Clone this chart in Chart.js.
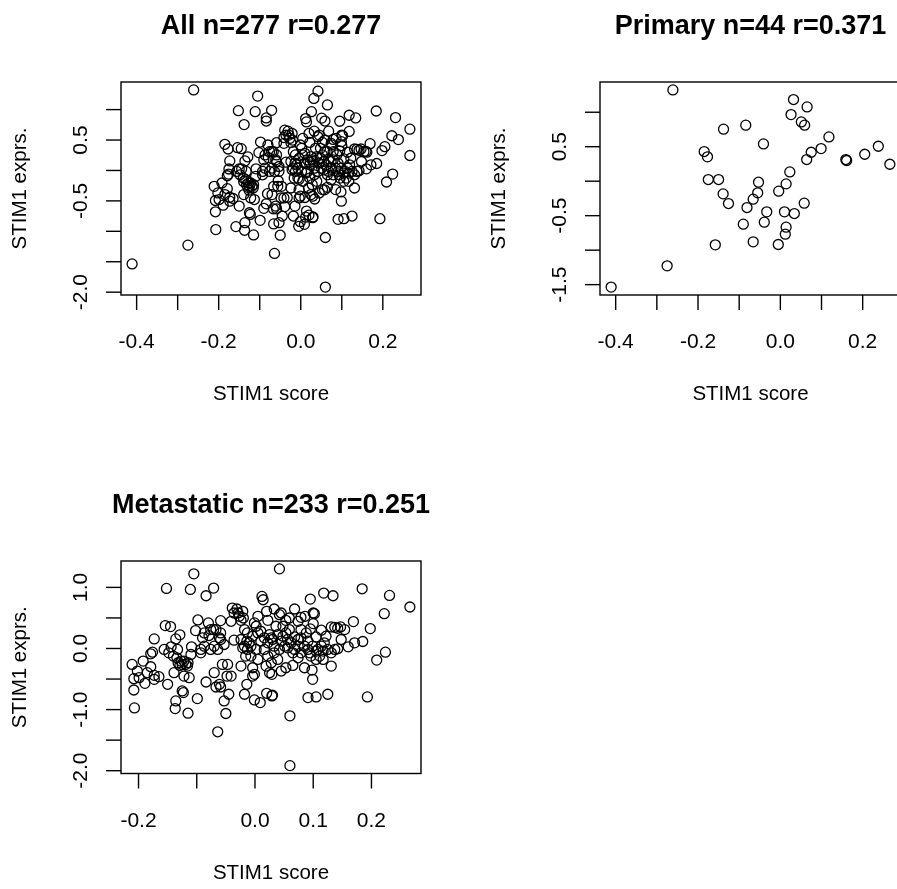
<!DOCTYPE html>
<html>
<head>
<meta charset="utf-8">
<title>STIM1 score vs STIM1 expression</title>
<script src="https://cdn.jsdelivr.net/npm/chart.js@4.4.1/dist/chart.umd.min.js"></script>
<style>
  html, body { margin: 0; padding: 0; background: #fff; overflow: hidden; }
  #page { position: relative; width: 897px; height: 889px; overflow: hidden; background: #fff; }
  canvas { position: absolute; }
</style>
</head>
<body>
<div id="page">
  <canvas id="allChart" width="448" height="444" style="left:0;top:0"></canvas>
  <canvas id="primaryChart" width="460" height="444" style="left:480px;top:0"></canvas>
  <canvas id="metChart" width="448" height="411" style="left:0;top:478px"></canvas>
</div>
<script>
// primary tumours
var primaryX = [-0.411, -0.261, -0.275, 0.032, 0.065, 0.026, 0.051, 0.059, -0.138, -0.084,
  -0.041, 0.118, 0.099, 0.075, 0.064, 0.159, 0.161, 0.205, 0.238, 0.266,
  -0.185, -0.177, -0.175, -0.150, -0.139, -0.126, -0.053, -0.055, -0.066, -0.081,
  -0.033, -0.039, -0.090, -0.158, -0.066, -0.005, 0.012, 0.014, 0.010, 0.034,
  0.058, -0.004, 0.014, 0.023];
var primaryY = [-1.536, 1.324, -1.227, 1.184, 1.077, 0.966, 0.860, 0.812, 0.754, 0.812,
  0.541, 0.642, 0.473, 0.420, 0.314, 0.314, 0.300, 0.391, 0.507, 0.246,
  0.430, 0.353, 0.024, 0.024, -0.184, -0.324, -0.015, -0.169, -0.261, -0.382,
  -0.444, -0.594, -0.623, -0.923, -0.879, -0.918, -0.768, -0.667, -0.444, -0.469,
  -0.319, -0.145, -0.039, 0.135];

// metastatic samples
var metX = [
  -0.211, -0.208, -0.208, -0.207, -0.192, -0.179, -0.176, -0.173, -0.179, -0.202, -0.199, -0.189, -0.173, -0.165, -0.173,
  -0.152, -0.154, -0.145, -0.136, -0.144, -0.129, -0.140, -0.132, -0.125, -0.119, -0.127, -0.139, -0.150, -0.125, -0.123, -0.136, -0.137, -0.133, -0.129,
  -0.105, -0.111, -0.084, -0.098, -0.102, -0.109, -0.110, -0.115, -0.099, -0.113, -0.122, -0.093, -0.087, -0.090, -0.080, -0.093, -0.084, -0.116,
  -0.071, -0.059, -0.071, -0.076, -0.067, -0.059, -0.079, -0.064, -0.070, -0.067, -0.059, -0.064, -0.050, -0.053, -0.045, -0.048, -0.041, -0.056, -0.047, -0.061, -0.041, -0.039, -0.070, -0.059, -0.076,
  -0.031, -0.021, -0.036, -0.027, -0.024, -0.036, -0.024, -0.018, -0.013, -0.016, -0.024, -0.004, -0.001, -0.004, -0.014, -0.018, -0.001, 0.009, 0.002, -0.001, 0.005, -0.004, 0.012, 0.014, 0.010, -0.010, 0.002, -0.007, 0.005,
  0.042, 0.020, 0.029, 0.030, 0.022, 0.020, 0.033, 0.045, 0.053, 0.022, 0.028, 0.033, 0.039, 0.048, 0.053, 0.022, 0.028, 0.019, 0.025, 0.029, 0.045, 0.053, 0.016, 0.033, 0.042, 0.051, 0.010, 0.036, 0.048, 0.039,
  0.059, 0.068, 0.079, 0.086, 0.100, 0.102, 0.100, 0.095, 0.095, 0.056, 0.062, 0.068, 0.074, 0.079, 0.085, 0.091, 0.094, 0.096, 0.065, 0.074, 0.085, 0.098, 0.099, 0.091, 0.060, 0.060, 0.068, 0.079, 0.088, 0.059, 0.079,
  0.118, 0.134, 0.105, 0.114, 0.131, 0.137, 0.147, 0.142, 0.105, 0.108, 0.114, 0.119, 0.125, 0.131, 0.137, 0.142, 0.131, 0.125, 0.105, 0.111, 0.122, 0.117,
  0.184, 0.231, 0.266, 0.222, 0.198, 0.169, 0.160, 0.171, 0.185, 0.209, 0.224, 0.193,
  -0.122, -0.115, -0.134, -0.029, -0.020, -0.021, -0.007, -0.014, -0.013, -0.018, 0.030, 0.045, 0.056, 0.025, 0.016, 0.065,
  0.074, 0.099, 0.105, 0.117, 0.091, 0.148, 0.154, -0.053, -0.061, -0.087, -0.156, -0.148, -0.185, 0.074, 0.042, 0.005];
var metY = [
  -0.261, -0.494, -0.679, -0.972, -0.206, -0.299, -0.060, 0.157, -0.087, -0.369, -0.478, -0.570, -0.505, -0.461, -0.440,
  0.983, 0.375, 0.358, 0.157, 0.027, 0.223, -0.125, -0.233, -0.261, -0.261, -0.206, -0.396, -0.586, -0.695, -0.722, -0.858, -0.983, -0.016, -0.277,
  1.222, 0.966, 0.863, 0.467, 0.293, 0.027, -0.098, -1.059, -0.820, -0.478, -0.451, -0.071, 0.038, 0.174, 0.418, -0.016, -0.548, -0.288,
  0.988, 0.456, 0.309, 0.309, 0.309, 0.255, 0.212, -0.016, -0.396, -0.630, -0.630, -1.363, -1.064, -0.858, -0.749, -0.451, -0.451, -0.261, -0.261, -0.586, 0.445, 0.662, 0.038, 0.147, -0.016,
  0.646, 0.608, 0.581, 0.527, 0.461, 0.136, 0.147, 0.038, -0.016, -0.125, -0.288, -0.315, -0.423, -0.451, -0.586, -0.749, -0.841, -0.885, 0.364, 0.418, 0.255, 0.201, 0.852, 0.798, 0.119, 0.092, -0.016, -0.125, -0.179,
  1.303, -0.733, -0.776, -0.765, 0.461, 0.608, 0.646, 0.581, 0.461, 0.092, 0.174, 0.038, 0.228, 0.201, 0.255, -0.125, -0.233, -0.288, -0.396, -0.423, -0.369, -0.315, -0.016, -0.071, -0.016, 0.038, 0.282, 0.364, 0.364, -0.179,
  0.499, 0.646, 0.510, 0.527, 0.581, 0.570, 0.407, 0.320, 0.809, 0.147, 0.092, 0.190, 0.147, 0.174, 0.038, -0.016, -0.071, -0.125, -0.277, -0.152, -0.315, -0.353, -0.505, -0.803, -1.102, -1.917, -0.016, -0.071, 0.255, 0.309, 0.309,
  0.907, 0.863, 0.190, 0.299, 0.353, 0.347, 0.353, 0.331, -0.179, -0.016, 0.038, 0.092, -0.016, -0.071, -0.016, -0.005, -0.288, -0.749, -0.793, -0.125, 0.201, -0.179,
  0.977, 0.869, 0.679, 0.570, 0.326, 0.440, 0.027, 0.092, 0.114, -0.190, -0.060, -0.793,
  -0.206, -0.233, -0.152, 0.581, 0.499, 0.011, 0.038, 0.119, 0.255, 0.309, 0.147, 0.119, 0.011, 0.228, 0.174, -0.071,
  0.038, 0.038, -0.043, -0.043, 0.119, 0.147, 0.309, 0.065, 0.174, 0.255, -0.016, -0.071, -0.396, 0.445, 0.554, 0.527];

// all samples = primary + metastatic
var allX = primaryX.concat(metX);
var allY = primaryY.concat(metY);

// correlations as printed in the titles
var allR = "0.277", primaryR = "0.371", metR = "0.251";

// tick positions and the labels R kept after overlap removal
var scoreTicks = [-0.4, -0.3, -0.2, -0.1, 0.0, 0.1, 0.2];
var scoreLabels = ["-0.4", "", "-0.2", "", "0.0", "", "0.2"];
var allYTicks = [-2.0, -1.5, -1.0, -0.5, 0.0, 0.5, 1.0];
var allYLabels = ["-2.0", "", "", "-0.5", "", "0.5", ""];
var primaryYTicks = [-1.5, -1.0, -0.5, 0.0, 0.5, 1.0];
var primaryYLabels = ["-1.5", "", "-0.5", "", "0.5", ""];
var metXTicks = [-0.2, -0.1, 0.0, 0.1, 0.2];
var metXLabels = ["-0.2", "", "0.0", "0.1", "0.2"];
var metYTicks = [-2.0, -1.5, -1.0, -0.5, 0.0, 0.5, 1.0];
var metYLabels = ["-2.0", "", "-1.0", "", "0.0", "", "1.0"];

var FONT = '"Liberation Sans", Arial, Helvetica, sans-serif';

// R pads the data range by 4% on each side
function rLimits(vals) {
  var lo = Math.min.apply(null, vals), hi = Math.max.apply(null, vals);
  var pad = (hi - lo) * 0.04;
  return [lo - pad, hi + pad];
}

function pairUp(xs, ys) {
  var pts = [];
  for (var i = 0; i < Math.min(xs.length, ys.length); i++) {
    pts.push({x: xs[i], y: ys[i]});
  }
  return pts;
}

// base-graphics look: box, outward ticks, rotated y labels, titles
var rBase = {
  id: 'rBase',
  afterDraw: function (chart, args, opts) {
    var ctx = chart.ctx, a = chart.chartArea;
    var sx = chart.scales.x, sy = chart.scales.y;
    ctx.save();
    ctx.strokeStyle = '#000';
    ctx.fillStyle = '#000';
    ctx.lineWidth = 1.4;
    ctx.strokeRect(a.left, a.top, a.right - a.left, a.bottom - a.top);

    ctx.font = '21px ' + FONT;
    ctx.textAlign = 'center';
    ctx.textBaseline = 'alphabetic';
    for (var i = 0; i < opts.xTicks.length; i++) {
      var px = sx.getPixelForValue(opts.xTicks[i]);
      ctx.beginPath();
      ctx.moveTo(px, a.bottom);
      ctx.lineTo(px, a.bottom + 15);
      ctx.stroke();
      if (opts.xLabels[i]) ctx.fillText(opts.xLabels[i], px, a.bottom + 53);
    }
    for (var j = 0; j < opts.yTicks.length; j++) {
      var py = sy.getPixelForValue(opts.yTicks[j]);
      ctx.beginPath();
      ctx.moveTo(a.left, py);
      ctx.lineTo(a.left - 15, py);
      ctx.stroke();
      if (opts.yLabels[j]) {
        ctx.save();
        ctx.translate(a.left - 34, py);
        ctx.rotate(-Math.PI / 2);
        ctx.fillText(opts.yLabels[j], 0, 0);
        ctx.restore();
      }
    }

    ctx.font = '20.5px ' + FONT;
    ctx.fillText('STIM1 score', (a.left + a.right) / 2, a.bottom + 105);
    ctx.save();
    ctx.translate(a.left - 95, (a.top + a.bottom) / 2);
    ctx.rotate(-Math.PI / 2);
    ctx.fillText('STIM1 exprs.', 0, 0);
    ctx.restore();

    ctx.font = 'bold 27px ' + FONT;
    ctx.fillText(opts.title, (a.left + a.right) / 2, a.top - 48);
    ctx.restore();
  }
};

function scatterPanel(id, xs, ys, conf) {
  var xl = rLimits(xs), yl = rLimits(ys);
  return new Chart(document.getElementById(id), {
    type: 'scatter',
    data: {
      datasets: [{
        data: pairUp(xs, ys),
        pointStyle: 'circle',
        pointRadius: 5,
        pointHoverRadius: 5,
        borderColor: '#000',
        borderWidth: 1.3,
        backgroundColor: 'rgba(0,0,0,0)'
      }]
    },
    options: {
      responsive: false,
      animation: false,
      events: [],
      layout: {padding: conf.padding},
      scales: {
        x: {type: 'linear', display: false, min: xl[0], max: xl[1]},
        y: {type: 'linear', display: false, min: yl[0], max: yl[1]}
      },
      plugins: {
        legend: {display: false},
        tooltip: {enabled: false},
        rBase: {
          title: conf.title,
          xTicks: conf.xTicks, xLabels: conf.xLabels,
          yTicks: conf.yTicks, yLabels: conf.yLabels
        }
      }
    },
    plugins: [rBase]
  });
}

scatterPanel('allChart', allX, allY, {
  title: 'All n=' + allX.length + ' r=' + allR,
  padding: {left: 121, top: 82, right: 27, bottom: 149},
  xTicks: scoreTicks, xLabels: scoreLabels,
  yTicks: allYTicks, yLabels: allYLabels
});

scatterPanel('primaryChart', primaryX, primaryY, {
  title: 'Primary n=' + primaryX.length + ' r=' + primaryR,
  padding: {left: 120, top: 82, right: 39, bottom: 149},
  xTicks: scoreTicks, xLabels: scoreLabels,
  yTicks: primaryYTicks, yLabels: primaryYLabels
});

scatterPanel('metChart', metX, metY, {
  title: 'Metastatic n=' + metX.length + ' r=' + metR,
  padding: {left: 121, top: 83, right: 27, bottom: 115.5},
  xTicks: metXTicks, xLabels: metXLabels,
  yTicks: metYTicks, yLabels: metYLabels
});
</script>
</body>
</html>
